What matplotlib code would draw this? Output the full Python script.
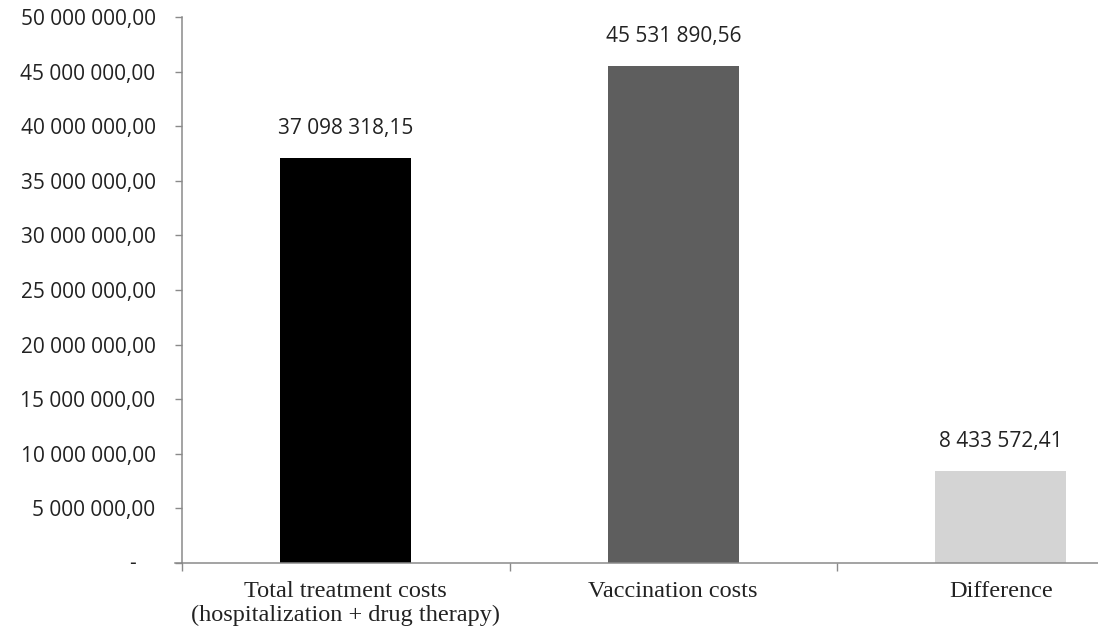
import matplotlib
matplotlib.use("Agg")
import matplotlib.pyplot as plt
from matplotlib.ticker import FixedLocator, FuncFormatter

categories = ["Total treatment costs\n(hospitalization + drug therapy)", "Vaccination costs", "Difference"]
values = [37098318.15, 45531890.56, 8433572.41]
value_labels = ["37 098 318,15", "45 531 890,56", "8 433 572,41"]
colors = ["#000000", "#5e5e5e", "#d4d4d4"]
yticks = [0, 5e6, 10e6, 15e6, 20e6, 25e6, 30e6, 35e6, 40e6, 45e6, 50e6]

def fmt(v, pos=None):
    if v == 0:
        return ""
    s = f"{v:,.2f}"
    intpart, dec = s.split(".")
    return intpart.replace(",", " ") + "," + dec

W, H = 1098, 633
fig = plt.figure(figsize=(W / 100, H / 100), dpi=100)
left_px, right_px, top_px, bottom_px = 182, 1164.5, 17, 563
ax = fig.add_axes([left_px / W, (H - bottom_px) / H, (right_px - left_px) / W, (bottom_px - top_px) / H])

axis_color = "#8a8a8a"
text_color = "#222222"
sans = "Open Sans"
x = list(range(len(categories)))
ax.bar(x, values, width=0.40, color=colors, zorder=2)

ax.set_xlim(-0.5, 2.5)
ax.set_ylim(0, 50e6)

for s in ["top", "right"]:
    ax.spines[s].set_visible(False)
for s in ["left", "bottom"]:
    ax.spines[s].set_color(axis_color)
    ax.spines[s].set_linewidth(1.1)

ax.yaxis.set_major_locator(FixedLocator(yticks))
ax.yaxis.set_major_formatter(FuncFormatter(fmt))
ax.tick_params(axis="y", direction="out", length=5, width=1.0, color=axis_color, pad=14,
               labelsize=15, labelcolor=text_color)
for lab in ax.get_yticklabels():
    lab.set_family(sans)

ax.set_xticks(x)
ax.set_xticklabels(categories, family="Liberation Serif", fontsize=17.5, color=text_color, linespacing=1.2)
ax.tick_params(axis="x", which="major", length=0, pad=13)
ax.set_xticks([-0.5, 0.5, 1.5], minor=True)
ax.tick_params(axis="x", which="minor", direction="out", length=6, width=1.0, color=axis_color)

# zero label "-"
ax.annotate("-", xy=(0, 0), xycoords=("axes fraction", "data"), xytext=(-36, 0),
            textcoords="offset points", ha="center", va="center", family=sans, fontsize=15,
            color=text_color, annotation_clip=False)

# x axis line extending slightly past the y axis
ax.plot([-7 / (right_px - left_px), 0], [0, 0], transform=ax.transAxes, clip_on=False,
        color=axis_color, lw=1.1)

for xi, v, lab in zip(x, values, value_labels):
    ax.annotate(lab, xy=(xi, v), xytext=(0, 17), textcoords="offset points", ha="center",
                va="baseline", family=sans, fontsize=15, color=text_color)

fig.savefig("out.png", dpi=100)
